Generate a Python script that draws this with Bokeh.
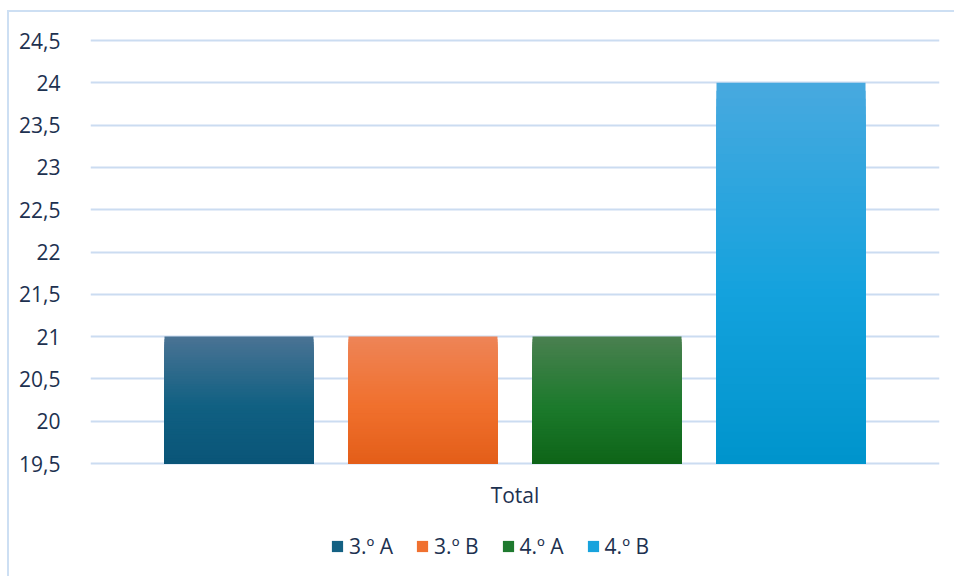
from bokeh.plotting import figure
from bokeh.models import ColumnDataSource, FactorRange, FixedTicker, Legend, LegendItem, Range1d
from bokeh.core.properties import value
from bokeh.transform import dodge
from bokeh.embed import file_html
from bokeh.resources import INLINE

# ---- data ----
categories = ["Total"]
series = ["3.º A", "3.º B", "4.º A", "4.º B"]
values = [21, 21, 21, 24]
y_ticks = [19.5, 20, 20.5, 21, 21.5, 22, 22.5, 23, 23.5, 24, 24.5]
y_tick_labels = ["19,5", "20", "20,5", "21", "21,5", "22", "22,5", "23", "23,5", "24", "24,5"]

# ---- styles / layout ----
base = 19.5
PX = 84.6                  # pixels per unit on the value axis
top_pad = 2 / PX           # keep the 24,5 grid line inside the frame
below_px = 115             # frame continues below the 19,5 line (label + legend area)
offsets = [-0.3251, -0.1084, 0.1084, 0.3251]
bar_width = 0.1755
gradients = [  # (top, mid, bottom)
    ((74, 115, 148), (16, 96, 130), (10, 85, 120)),
    ((238, 132, 87), (240, 112, 45), (227, 94, 25)),
    ((74, 128, 80), (28, 122, 44), (14, 100, 24)),
    ((72, 169, 223), (20, 162, 221), (0, 148, 204)),
]
text_color = "#1d3150"
grid_color = "#cbdcf1"
FONT = "Open Sans"
FS = "21px"
N = 48


def mix(a, b, t):
    return tuple(int(round(a[k] + (b[k] - a[k]) * t)) for k in range(3))


def grad(stops, pos, mid=0.55):
    top, m, bot = stops
    if pos <= mid:
        c = mix(top, m, pos / mid)
    else:
        c = mix(m, bot, (pos - mid) / (1 - mid))
    return "#%02x%02x%02x" % c


p = figure(
    width=947, height=566,
    x_range=FactorRange(factors=categories, range_padding=0),
    y_range=Range1d(y_ticks[0] - below_px / PX, y_ticks[-1] + top_pad),
    output_backend="svg", toolbar_location=None,
    min_border_left=81, min_border_right=17, min_border_top=26, min_border_bottom=0,
)
p.styles = {
    "margin-left": "7px", "margin-top": "10px",
    "border-left": "2px solid #cddff3", "border-top": "2px solid #cddff3",
}
p.outline_line_color = None
p.background_fill_color = "white"
p.border_fill_color = "white"

renderers = []
for name, v, off, stops in zip(series, values, offsets, gradients):
    tops, cols, cats = [], [], []
    for i in range(N):
        f = 1 - i / N
        tops.append(base + (v - base) * f)
        cols.append(grad(stops, (i + 0.5) / N))
        cats.append(categories[0])
    src = ColumnDataSource(dict(cat=cats, top=tops, color=cols))
    r = p.vbar(x=dodge("cat", off, range=p.x_range), top="top", bottom=base,
               width=bar_width, source=src, fill_color="color", line_color=None)
    renderers.append(r)

# category label under the bars
p.text(x=categories, y=[base - 31 / PX], text=categories,
       text_font=value(FONT), text_font_size=FS, text_color=text_color,
       text_align="center", text_baseline="middle")

# axes
p.xaxis.visible = False
p.yaxis.ticker = FixedTicker(ticks=y_ticks)
p.yaxis.major_label_overrides = {t: l for t, l in zip(y_ticks, y_tick_labels)}
p.yaxis.axis_line_color = None
p.yaxis.major_tick_line_color = None
p.yaxis.minor_tick_line_color = None
p.yaxis.major_label_text_font = FONT
p.yaxis.major_label_text_font_size = FS
p.yaxis.major_label_text_color = text_color
p.yaxis.major_label_standoff = 24

p.xgrid.grid_line_color = None
p.ygrid.ticker = FixedTicker(ticks=y_ticks)
p.ygrid.grid_line_color = grid_color
p.ygrid.grid_line_width = 2

items = [LegendItem(label=name, renderers=[r], index=N // 2) for name, r in zip(series, renderers)]
legend = Legend(items=items, orientation="horizontal", location=(240, 18),
                glyph_width=14, glyph_height=14, label_standoff=5, spacing=22,
                padding=0, margin=0, border_line_color=None, background_fill_alpha=0,
                label_text_font=FONT, label_text_font_size=FS, label_text_color=text_color)
p.add_layout(legend, "center")

open("out.html", "w").write(file_html(p, INLINE))
